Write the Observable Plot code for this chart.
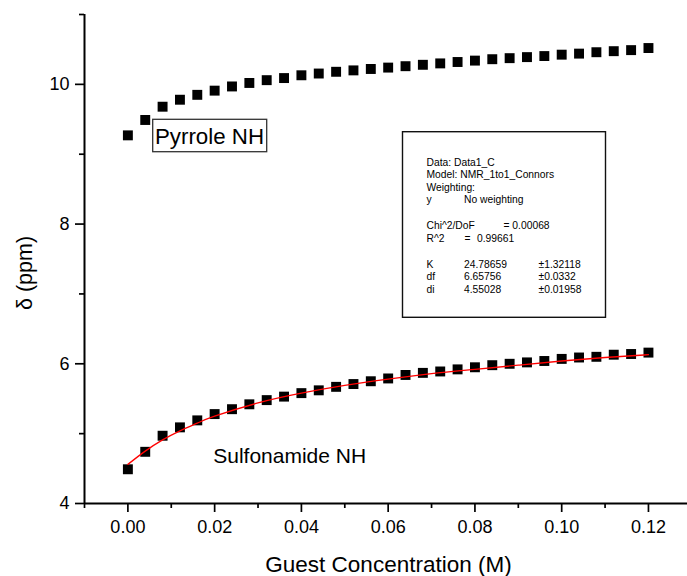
<!DOCTYPE html>
<html>
<head>
<meta charset="utf-8">
<script src="https://cdn.jsdelivr.net/npm/d3@7"></script>
<script src="https://cdn.jsdelivr.net/npm/@observablehq/plot@0.6"></script>
<style>
  html, body { margin: 0; padding: 0; background: #fff; }
  svg { display: block; }
</style>
</head>
<body>
<div id="chart"></div>
<script>
// ---- data ----
const concentration = [0, 0.004, 0.008, 0.012, 0.016, 0.02, 0.024, 0.028, 0.032, 0.036, 0.04,
  0.044, 0.048, 0.052, 0.056, 0.06, 0.064, 0.068, 0.072, 0.076, 0.08,
  0.084, 0.088, 0.092, 0.096, 0.1, 0.104, 0.108, 0.112, 0.116, 0.12];
const pyrroleShift = [9.27, 9.49, 9.68, 9.78, 9.85, 9.91, 9.97, 10.02, 10.06, 10.09, 10.13,
  10.155, 10.18, 10.20, 10.22, 10.24, 10.26, 10.28, 10.30, 10.32, 10.34,
  10.36, 10.375, 10.39, 10.405, 10.425, 10.44, 10.46, 10.475, 10.49, 10.52];
const sulfonamideShift = [4.49, 4.74, 4.97, 5.09, 5.19, 5.28, 5.35, 5.42, 5.48, 5.53, 5.58,
  5.62, 5.67, 5.71, 5.75, 5.79, 5.84, 5.87, 5.89, 5.92, 5.95,
  5.98, 6.00, 6.02, 6.04, 6.07, 6.09, 6.10, 6.13, 6.14, 6.16];
const fitConcentration = [0, 0.004, 0.008, 0.012, 0.016, 0.02, 0.03, 0.04, 0.05, 0.06, 0.07, 0.08, 0.09, 0.10, 0.11, 0.12];
const fitShift = [4.56, 4.75, 4.91, 5.04, 5.15, 5.25, 5.44, 5.58, 5.69, 5.78, 5.86, 5.92, 5.98, 6.04, 6.09, 6.13];

const xMajorTicks = [0, 0.02, 0.04, 0.06, 0.08, 0.10, 0.12];
const xMinorTicks = [-0.01, 0.01, 0.03, 0.05, 0.07, 0.09, 0.11];
const yMajorTicks = [4, 6, 8, 10];
const yMinorTicks = [5, 7, 9, 11];

const seriesLabels = ["Pyrrole NH", "Sulfonamide NH"];
const xTitle = "Guest Concentration (M)";
const yTitle = "δ (ppm)";

const reportCol1 = ["Data: Data1_C", "Model: NMR_1to1_Connors", "Weighting:", "y", "", "Chi^2/DoF", "R^2", "", "K", "df", "di"];
const reportCol2 = ["", "", "", "No weighting", "", "", "=", "", "24.78659", "6.65756", "4.55028"];
const reportCol3 = ["", "", "", "", "", "= 0.00068", "0.99661", "", "±1.32118", "±0.0332", "±0.01958"];

// ---- tables built from the arrays ----
const pyrrole = concentration.map((c, i) => ({c, d: pyrroleShift[i]}));
const sulfonamide = concentration.map((c, i) => ({c, d: sulfonamideShift[i]}));
const fit = fitConcentration.map((c, i) => ({c, d: fitShift[i]}));

// ---- layout ----
const W = 687, H = 576;
const mL = 84, mT = 14, mB = 73, mR = 0;
const font = "'Liberation Sans', Arial, sans-serif";
const reportBaselines = [165, 177.7, 190.3, 202.8, 215.5, 228.6, 241.5, 254.3, 267.2, 279.9, 292.6];
const reportX = [426, 463.5, 538];
const reportXOverride = {6: [426, 464, 476.5], 5: [426, 0, 503]};

function label(txt, px, baseline, size, extra = {}) {
  return Plot.text([txt], {
    text: d => d,
    frameAnchor: "top-left",
    dx: px - mL,
    dy: baseline - mT,
    textAnchor: "start",
    lineAnchor: "bottom",
    fontSize: size,
    fill: "black",
    ...extra
  });
}

const reportMarks = [];
reportCol1.forEach((t, i) => {
  const xs = reportXOverride[i] || reportX;
  [t, reportCol2[i], reportCol3[i]].forEach((s, j) => {
    if (s) reportMarks.push(label(s, xs[j], reportBaselines[i], 10.3));
  });
});

const chart = Plot.plot({
  width: W,
  height: H,
  marginLeft: mL,
  marginRight: mR,
  marginTop: mT,
  marginBottom: mB,
  style: {fontFamily: font, fontSize: "18px", color: "black", background: "white", overflow: "visible"},
  x: {domain: [-0.01, 0.129]},
  y: {domain: [4, 11]},
  marks: [
    Plot.axisX({ticks: xMajorTicks, tickSize: 9, tickPadding: 8, tickFormat: d3.format(".2f"), label: null, fontSize: 18, strokeWidth: 1.7}),
    Plot.axisX({ticks: xMinorTicks, tickSize: 5, tickFormat: () => "", label: null, strokeWidth: 1.7}),
    Plot.axisY({ticks: yMajorTicks, tickSize: 9, tickPadding: 6, tickFormat: d => String(d), label: null, fontSize: 18, strokeWidth: 1.7}),
    Plot.axisY({ticks: yMinorTicks, tickSize: 5, tickFormat: () => "", label: null, strokeWidth: 1.7}),
    Plot.ruleY([4], {stroke: "black", strokeWidth: 2}),
    Plot.ruleX([-0.01], {stroke: "black", strokeWidth: 2}),
    Plot.dot(pyrrole, {x: "c", y: "d", symbol: "square", r: 5.6, fill: "black", stroke: "none"}),
    Plot.dot(sulfonamide, {x: "c", y: "d", symbol: "square", r: 5.6, fill: "black", stroke: "none"}),
    Plot.line(fit, {x: "c", y: "d", stroke: "red", strokeWidth: 1.3, curve: "natural"}),
    label(seriesLabels[0], 154.5, 143.3, 22.3),
    label(seriesLabels[1], 212.7, 462, 21),
    Plot.text([xTitle], {text: d => d, frameAnchor: "bottom", dx: 2.5, dy: 68, lineAnchor: "bottom", fontSize: 22.5, fill: "black"}),
    Plot.text([yTitle], {text: d => d, frameAnchor: "left", dx: 25 - mL, dy: 14, rotate: -90, textAnchor: "middle", lineAnchor: "middle", fontSize: 21.5, fill: "black"}),
    ...reportMarks
  ]
});

document.getElementById("chart").appendChild(chart);

// annotation boxes
const svg = d3.select(chart);
svg.append("rect").attr("x", 402.5).attr("y", 131.7).attr("width", 203).attr("height", 185.6)
  .attr("fill", "none").attr("stroke", "#111").attr("stroke-width", 1.4);
svg.append("rect").attr("x", 152.7).attr("y", 119.3).attr("width", 114).attr("height", 32.4)
  .attr("fill", "none").attr("stroke", "#333").attr("stroke-width", 1.3);
</script>
</body>
</html>
